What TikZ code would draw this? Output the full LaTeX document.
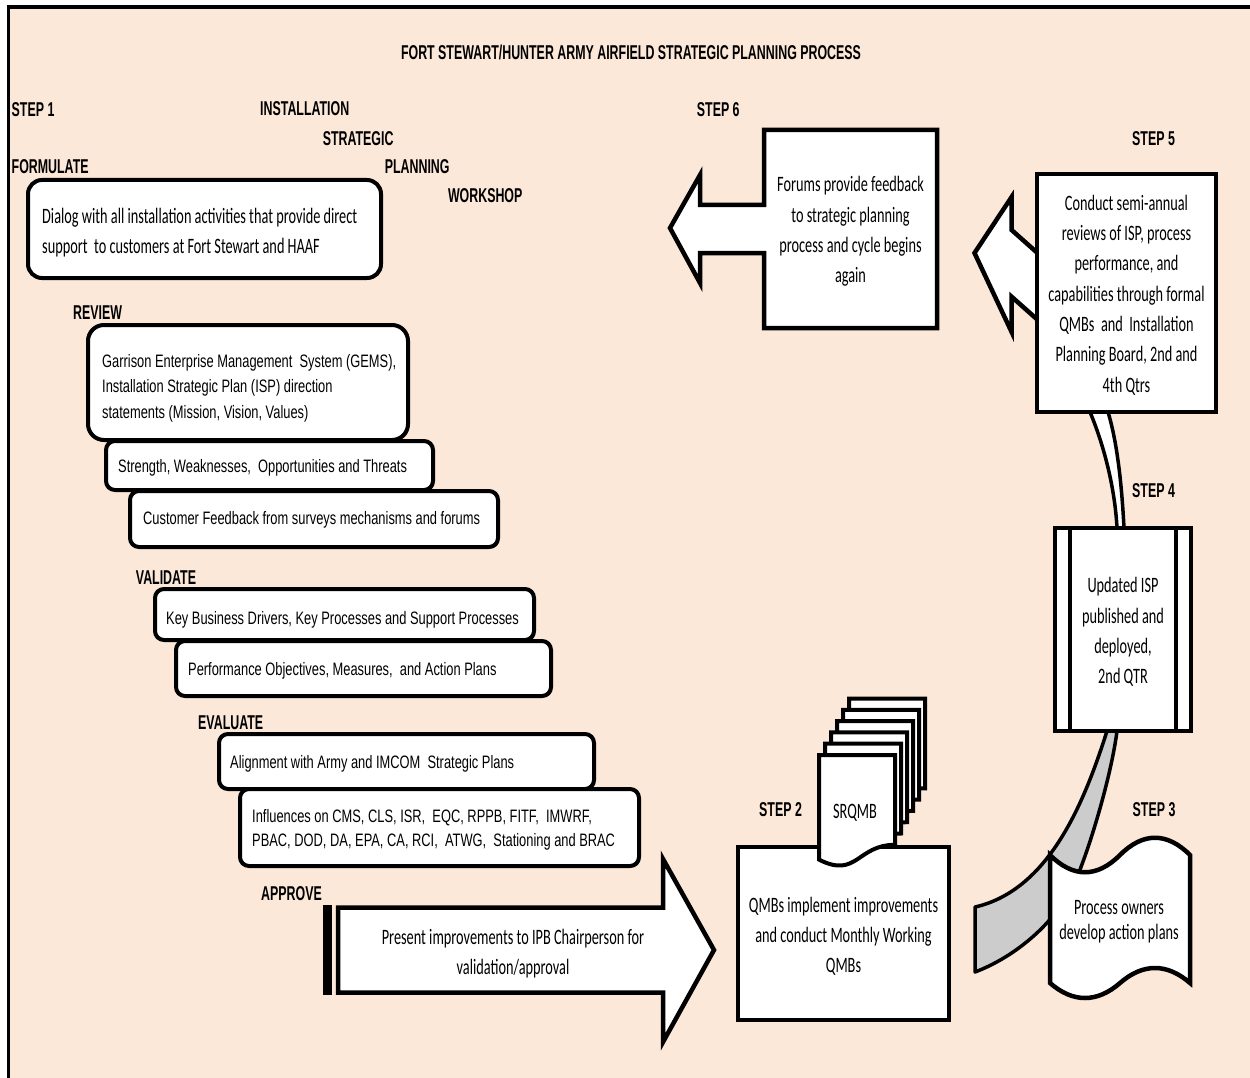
\documentclass[tikz,border=0pt]{standalone}
\usepackage{fontspec}
\newfontfamily\lblfont[FakeStretch=0.62]{Liberation Sans}
\newfontfamily\narfont[FakeStretch=0.715]{Liberation Sans}
\newfontfamily\calfont[FakeStretch=0.65]{Carlito}
\usetikzlibrary{shadows,calc}
\definecolor{peach}{HTML}{FCE8D9}
\definecolor{bandgray}{HTML}{CCCCCC}
\begin{document}
\begin{tikzpicture}[x=1pt,y=-1pt,
  lbl/.style={font=\lblfont\bfseries\fontsize{20}{24}\selectfont, inner sep=0pt, anchor=west},
  rbox/.style={draw=black, line width=4pt, fill=white, rounded corners=9pt, inner sep=0pt,
     drop shadow={shadow xshift=1.5pt,shadow yshift=-1.5pt,opacity=0.5,fill=black}},
  boxtext/.style={anchor=west, align=left, inner sep=0pt, font=\narfont\fontsize{18}{25.5}\selectfont},
  stepbox/.style={draw=black, line width=4.5pt, fill=white, align=center, inner sep=0pt,
     font=\calfont\fontsize{22}{30.3}\selectfont},
  steptext/.style={align=center, inner sep=0pt, font=\calfont\fontsize{22}{30.3}\selectfont},
  shapeline/.style={draw=black, line width=4.5pt, line join=miter, fill=white},
  bandline/.style={draw=black, line width=3.5pt, line join=round},
  docline/.style={draw=black, line width=4pt, fill=white, line join=miter}]
\useasboundingbox (0,0) rectangle (1250,1078);
\fill[white] (0,0) rectangle (1250,1078);
\fill[peach] (8,7) rectangle (1250,1078);
\draw[line width=4pt] (7,7) -- (1250,7);
\draw[line width=2.5pt] (8.5,5) -- (8.5,1078);

% labels
\node[lbl, anchor=center] (title) at (631,52) {FORT STEWART/HUNTER ARMY AIRFIELD STRATEGIC PLANNING PROCESS};
\node[lbl] (l1) at (11.5,109.5) {STEP 1};
\node[lbl] (inst) at (260,109) {INSTALLATION};
\node[lbl] (strat) at (322.6,138.5) {STRATEGIC};
\node[lbl] (form) at (11.5,167) {FORMULATE};
\node[lbl] (plan) at (384.6,167) {PLANNING};
\node[lbl] (work) at (447.8,196) {WORKSHOP};
\node[lbl] (rev) at (73,312.5) {REVIEW};
\node[lbl] (val) at (135.7,577.5) {VALIDATE};
\node[lbl] (eva) at (198,722.5) {EVALUATE};
\node[lbl] (app) at (261,894) {APPROVE};
\node[lbl] (l6) at (696.7,110) {STEP 6};
\node[lbl] (l5) at (1132,138.5) {STEP 5};
\node[lbl] (l4) at (1132,490.5) {STEP 4};
\node[lbl] (l2) at (759,809.5) {STEP 2};
\node[lbl] (l3) at (1132.5,809.5) {STEP 3};

% left boxes
\node[rbox, rounded corners=14pt, minimum width=353pt, minimum height=98pt] (dialog) at (204.5,229) {};
\node[boxtext, font=\calfont\fontsize{22}{30}\selectfont] (dialogt) at (42,233)
  {Dialog with all installation activities that provide direct\\support\ \ to customers at Fort Stewart and HAAF};
\node[rbox, rounded corners=16pt, minimum width=320pt, minimum height=115pt] (gems) at (248,382.5) {};
\node[boxtext] (gemst) at (102,388)
  {Garrison Enterprise Management\ \ System (GEMS),\\Installation Strategic Plan (ISP) direction\\statements (Mission, Vision, Values)};
\node[rbox, minimum width=327pt, minimum height=49pt] (swot) at (269.5,465.5) {};
\node[boxtext] (swott) at (118,468) {Strength, Weaknesses,\ \ Opportunities and Threats};
\node[rbox, minimum width=368pt, minimum height=56pt] (cust) at (314,519) {};
\node[boxtext] (custt) at (143,520) {Customer Feedback from surveys mechanisms and forums};
\node[rbox, minimum width=379pt, minimum height=51pt] (kbd) at (344.5,614.5) {};
\node[boxtext] (kbdt) at (166,620) {Key Business Drivers, Key Processes and Support Processes};
\node[rbox, minimum width=375pt, minimum height=55pt] (perf) at (363.5,668.5) {};
\node[boxtext] (perft) at (188,671) {Performance Objectives, Measures,\ \ and Action Plans};
\node[rbox, minimum width=375pt, minimum height=55pt] (align) at (406.5,761.5) {};
\node[boxtext] (alignt) at (230,764) {Alignment with Army and IMCOM\ \ Strategic Plans};
\node[rbox, minimum width=399pt, minimum height=77pt] (infl) at (439.5,827.5) {};
\node[boxtext, font=\narfont\fontsize{18}{24.5}\selectfont] (inflt) at (252,830)
  {Influences on CMS, CLS, ISR,\ \ EQC, RPPB, FITF,\ \ IMWRF,\\PBAC, DOD, DA, EPA, CA, RCI,\ \ ATWG,\ \ Stationing and BRAC};

% step 6 callout
\draw[shapeline] (937,130) -- (764,130) -- (764,205) -- (700,205) -- (700,175) -- (670,228)
  -- (700,283) -- (700,253) -- (764,253) -- (764,328) -- (937,328) -- cycle;
\node[steptext] (s6) at (850.5,231.5) {Forums provide feedback\\to strategic planning\\process and cycle begins\\again};

% bands
\draw[bandline, fill=white] (1087,404) -- (1090,412) .. controls (1105,448) and (1115,490) .. (1117,528)
  -- (1117,536) -- (1124,536) -- (1124,528) .. controls (1122,490) and (1118,445) .. (1108,412) -- (1106,404) -- cycle;
\draw[bandline, fill=bandgray] (1107,724) -- (1107,731) .. controls (1085,800) and (1050,890) .. (975,907)
  -- (975,972) .. controls (1020,955) and (1065,915) .. (1081,867)
  .. controls (1095,830) and (1112,770) .. (1117,731) -- (1117,724) -- cycle;

% step 5 arrow and box
\draw[shapeline] (974.5,253) -- (1011.6,197) -- (1011.6,230) -- (1045,259.7) -- (1045,326.4)
  -- (1011.6,296.7) -- (1011.6,332) -- cycle;
\node[stepbox, minimum width=179pt, minimum height=238pt] (s5) at (1126.5,293) {};
\node[steptext] (s5t) at (1126.5,295)
  {Conduct semi-annual\\reviews of ISP, process\\performance, and\\capabilities through formal\\QMBs\ \ and\ \ Installation\\Planning Board, 2nd and\\4th Qtrs};

% step 4 box
\node[stepbox, minimum width=136pt, minimum height=203pt] (s4) at (1123,629.5) {};
\draw[line width=4pt] ($(s4.north west)+(17,0)$) -- ($(s4.south west)+(17,0)$);
\draw[line width=4pt] ($(s4.north east)+(-17,0)$) -- ($(s4.south east)+(-17,0)$);
\node[steptext] (s4t) at (1123,632) {Updated ISP\\published and\\deployed,\\2nd QTR};

% step 3 document
\draw[docline, line width=4.5pt] (1050,855) .. controls (1073,878) and (1097,878) .. (1120,855)
  .. controls (1143,832) and (1167,832) .. (1190,855) -- (1190,983)
  .. controls (1167,963) and (1143,963) .. (1120,983)
  .. controls (1097,1003) and (1073,1003) .. (1050,983) -- cycle;
\node[steptext, font=\calfont\fontsize{22}{25}\selectfont] (s3) at (1119,921.5) {Process owners\\develop action plans};

% step 2 box and document stack
\node[stepbox, minimum width=211pt, minimum height=173pt] (s2) at (843.5,933.5) {};
\node[steptext] (s2t) at (843.5,936.5) {QMBs implement improvements\\and conduct Monthly Working\\QMBs};
\foreach \i in {5,4,3,2,1,0} {
  \begin{scope}[shift={(\i*6,-\i*11.3)}]
    \draw[docline] (819,755) -- (895,755) -- (895,844.8) .. controls (857,844.8) and (857,879) .. (819,859.6) -- cycle;
  \end{scope}
}
\node[steptext] (srq) at (855,813) {SRQMB};

% approve arrow
\fill[black] (322.5,905) rectangle (332,995);
\draw[shapeline] (338,907.5) -- (663,907.5) -- (663,859) -- (714,950) -- (663,1042) -- (663,992.5) -- (338,992.5) -- cycle;
\node[steptext] (appr) at (513,953.5) {Present improvements to IPB Chairperson for\\validation/approval};
\end{tikzpicture}
\end{document}
